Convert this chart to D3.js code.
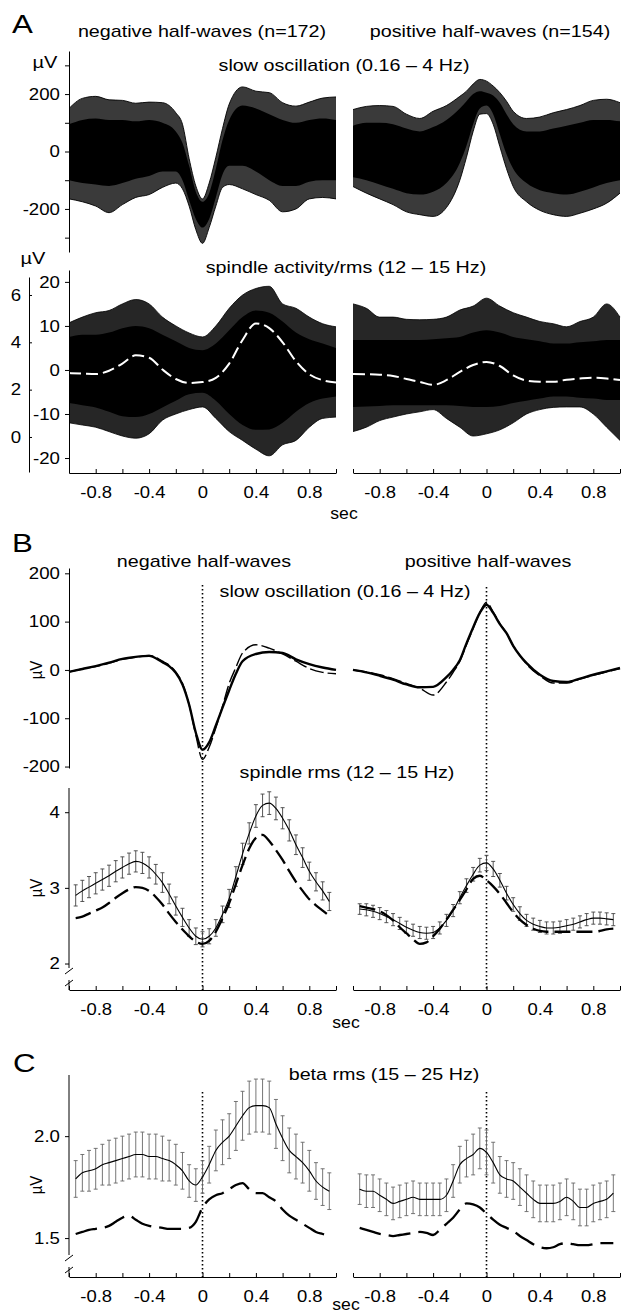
<!DOCTYPE html>
<html>
<head>
<meta charset="utf-8">
<script src="https://cdn.jsdelivr.net/npm/d3@7"></script>
<style>
body { margin: 0; background: #fff; }
svg text { fill: #000; }
</style>
</head>
<body>
<svg id="fig"></svg>
<script>
const FONT = '"Liberation Sans", Arial, sans-serif';

// ---- panel A : single half-waves (envelopes of the overlaid traces)
const tA = [-1,-0.9,-0.8,-0.7,-0.6,-0.5,-0.4,-0.3,-0.2,-0.15,-0.1,-0.05,0,0.05,0.1,0.15,0.2,0.3,0.4,0.5,0.6,0.7,0.8,0.9,1];
const soNegOuterHi = [150,185,192,180,178,168,172,170,135,95,-25,-120,-165,-110,-20,80,165,225,210,205,170,158,172,186,190];
const soNegOuterLo = [-165,-175,-190,-213,-185,-160,-150,-125,-110,-130,-190,-272,-320,-265,-190,-125,-115,-130,-150,-170,-210,-200,-165,-160,-165];
const soNegCoreHi = [95,110,115,110,110,105,110,100,70,30,-50,-140,-175,-145,-60,40,110,160,150,130,110,100,110,115,110];
const soNegCoreLo = [-100,-110,-115,-120,-110,-95,-85,-70,-70,-100,-170,-235,-265,-235,-160,-80,-50,-50,-70,-100,-120,-120,-105,-100,-100];
const soPosOuterHi = [146,157,160,157,130,115,140,160,192,210,235,251,245,228,205,175,140,115,120,135,146,160,178,182,170];
const soPosOuterLo = [-122,-145,-165,-185,-210,-220,-226,-195,-100,-20,70,130,132,95,17,-60,-122,-175,-205,-220,-226,-215,-200,-180,-145];
const soPosCoreHi = [90,100,100,95,80,70,85,110,150,175,200,210,205,195,170,130,95,70,70,80,90,100,110,110,105];
const soPosCoreLo = [-90,-100,-115,-130,-145,-150,-140,-110,-40,20,95,150,160,130,60,-10,-60,-110,-135,-145,-150,-140,-125,-110,-100];

const tS = [-1,-0.9,-0.8,-0.7,-0.6,-0.5,-0.4,-0.3,-0.2,-0.1,0,0.1,0.2,0.3,0.4,0.5,0.6,0.7,0.8,0.9,1];
const spNegSpkHi = [10.7,12,13,13.5,15,16,15,12,10,8.4,7.5,10,14,17,18.5,19,15,14,12,10.5,9.8];
const spNegCoreHi = [7.5,8,8,8.5,9.5,10,9.5,8,6.5,5,4.5,6,9,12,13.5,13,11,8.5,7,6,5];
const spNegCoreLo = [-7.5,-8,-8.5,-9.5,-10.5,-10.7,-10,-8.5,-7,-5.5,-5.2,-7,-10,-12.5,-13.6,-13.5,-12,-9.5,-7.5,-6.5,-6];
const spNegSpkLo = [-12,-12.5,-13,-14,-15,-15.5,-14.5,-11.4,-10,-9,-8.4,-11,-14,-16,-18,-19.5,-17,-16,-13,-11,-10.7];
const spNegRms = [2.7,2.68,2.66,2.8,3.1,3.45,3.35,2.85,2.45,2.28,2.32,2.5,3.1,4.1,4.8,4.6,4.0,3.2,2.65,2.4,2.3];
const spPosSpkHi = [15,14,12,12,11.5,11.4,11.5,12,13.6,14.5,16.3,14.5,13,12,11,10.5,9.8,11,12,15,12];
const spPosCoreHi = [6.8,6.8,6.8,6.8,6.8,6.8,7,7.2,7.5,8.5,9,8.5,7.5,7,6.5,6,6,6.3,6.5,6.8,6.8];
const spPosCoreLo = [-8.4,-8.3,-8.2,-8,-8,-8,-8,-8,-8.2,-8.4,-8.4,-8.2,-7.5,-7,-6.5,-6,-6,-6.3,-6.5,-6.8,-6.8];
const spPosSpkLo = [-14,-13,-11.5,-10.7,-10,-9.5,-9,-11,-13,-15,-14.5,-13.6,-12,-10,-9,-8.5,-8.4,-8.4,-10,-13,-16];
const spPosRms = [2.66,2.65,2.63,2.58,2.45,2.33,2.2,2.4,2.75,3.04,3.17,3.0,2.6,2.38,2.33,2.33,2.42,2.47,2.5,2.47,2.41];

// ---- panel B : averages (solid / dashed)
const tB = [-1,-0.9,-0.8,-0.7,-0.6,-0.5,-0.4,-0.3,-0.25,-0.2,-0.15,-0.1,-0.05,0,0.05,0.1,0.15,0.2,0.25,0.3,0.4,0.5,0.6,0.7,0.8,0.9,1];
const soNegSolid = [-4,2,8,15,23,27,29,16,8,-6,-30,-72,-130,-165,-150,-115,-78,-42,-8,18,33,37,35,22,12,5,0];
const soNegDashed = [-4,2,7,14,22,26,30,18,10,-4,-28,-72,-135,-185,-160,-120,-75,-28,5,35,52,45,33,18,3,-5,-8];
const soPosSolid = [0,-5,-12,-20,-30,-36,-35,-15,0,20,55,88,118,135,118,95,76,50,30,14,-10,-23,-25,-18,-10,-3,4];
const soPosDashed = [0,-4,-10,-18,-28,-38,-52,-25,-5,18,52,86,118,140,120,96,76,50,30,12,-12,-27,-27,-19,-11,-4,3];

const tE = [-0.95,-0.9,-0.85,-0.8,-0.75,-0.7,-0.65,-0.6,-0.55,-0.5,-0.45,-0.4,-0.35,-0.3,-0.25,-0.2,-0.15,-0.1,-0.05,0,
            0.05,0.1,0.15,0.2,0.25,0.3,0.35,0.4,0.45,0.5,0.55,0.6,0.65,0.7,0.75,0.8,0.85,0.9,0.95];
const spNegSolid = [2.90,2.96,3.01,3.06,3.11,3.16,3.22,3.27,3.32,3.35,3.33,3.27,3.18,3.07,2.92,2.76,2.61,2.47,2.36,2.32,
                    2.36,2.47,2.65,2.86,3.15,3.45,3.72,3.95,4.09,4.12,4.05,3.92,3.76,3.57,3.40,3.22,3.08,2.96,2.82];
const spNegSem = [0.14,0.14,0.14,0.14,0.14,0.14,0.14,0.14,0.14,0.14,0.14,0.14,0.13,0.13,0.13,0.12,0.12,0.11,0.11,0.10,
                  0.10,0.11,0.11,0.12,0.13,0.14,0.14,0.15,0.15,0.15,0.15,0.14,0.14,0.13,0.13,0.12,0.12,0.12,0.12];
const spNegDashed = [2.60,2.62,2.66,2.70,2.74,2.80,2.87,2.93,2.98,3.01,3.00,2.96,2.88,2.78,2.66,2.55,2.45,2.36,2.29,2.26,
                     2.30,2.42,2.60,2.80,3.05,3.30,3.52,3.66,3.70,3.62,3.50,3.37,3.22,3.08,2.96,2.85,2.77,2.70,2.63];
const spPosSolid = [2.72,2.71,2.69,2.66,2.62,2.58,2.53,2.48,2.44,2.41,2.40,2.41,2.47,2.57,2.70,2.87,3.03,3.18,3.30,3.33,
                    3.25,3.10,2.93,2.78,2.66,2.57,2.52,2.49,2.47,2.47,2.48,2.50,2.52,2.55,2.58,2.60,2.60,2.59,2.58];
const spPosSem = [0.07,0.08,0.08,0.08,0.08,0.08,0.08,0.08,0.08,0.08,0.08,0.08,0.08,0.08,0.08,0.08,0.09,0.09,0.09,0.10,
                  0.10,0.09,0.09,0.09,0.09,0.08,0.08,0.08,0.08,0.08,0.08,0.08,0.08,0.08,0.08,0.08,0.08,0.08,0.08];
const spPosDashed = [2.76,2.74,2.72,2.69,2.64,2.57,2.48,2.40,2.32,2.26,2.28,2.36,2.46,2.58,2.71,2.84,2.98,3.12,3.16,3.10,
                     3.02,2.92,2.80,2.68,2.58,2.51,2.46,2.43,2.42,2.42,2.42,2.42,2.42,2.42,2.42,2.42,2.43,2.45,2.46];

// ---- panel C : beta rms
const btNegSolid = [1.79,1.82,1.83,1.84,1.86,1.87,1.88,1.89,1.90,1.91,1.91,1.90,1.90,1.89,1.88,1.86,1.83,1.78,1.76,1.80,
                    1.86,1.93,1.97,2.00,2.05,2.10,2.14,2.15,2.15,2.14,2.06,1.99,1.93,1.90,1.87,1.83,1.78,1.75,1.73];
const btNegSem = [0.09,0.09,0.10,0.10,0.10,0.11,0.11,0.11,0.11,0.11,0.11,0.11,0.11,0.11,0.10,0.10,0.09,0.08,0.08,0.08,
                  0.09,0.10,0.11,0.11,0.12,0.12,0.13,0.13,0.13,0.13,0.12,0.11,0.11,0.11,0.10,0.10,0.09,0.09,0.09];
const btNegDashed = [1.52,1.53,1.54,1.545,1.55,1.56,1.58,1.60,1.61,1.59,1.57,1.56,1.555,1.55,1.545,1.545,1.545,1.55,1.58,1.65,
                     1.69,1.71,1.72,1.74,1.76,1.77,1.74,1.72,1.72,1.70,1.68,1.64,1.61,1.59,1.57,1.55,1.53,1.52,1.51];
const btPosSolid = [1.74,1.73,1.73,1.71,1.69,1.67,1.68,1.69,1.70,1.69,1.69,1.69,1.69,1.71,1.78,1.86,1.89,1.91,1.94,1.92,
                    1.87,1.81,1.79,1.78,1.75,1.72,1.69,1.67,1.67,1.67,1.68,1.70,1.68,1.65,1.65,1.67,1.68,1.69,1.72];
const btPosSem = [0.075,0.08,0.08,0.08,0.08,0.08,0.08,0.08,0.08,0.08,0.08,0.08,0.08,0.08,0.08,0.09,0.09,0.10,0.10,0.11,
                  0.10,0.09,0.09,0.09,0.09,0.09,0.09,0.09,0.09,0.09,0.09,0.09,0.09,0.09,0.09,0.09,0.09,0.09,0.09];
const btPosDashed = [1.55,1.54,1.53,1.52,1.515,1.51,1.515,1.52,1.525,1.53,1.525,1.515,1.54,1.57,1.60,1.64,1.67,1.665,1.65,1.62,
                     1.59,1.565,1.55,1.535,1.51,1.49,1.47,1.455,1.45,1.455,1.47,1.475,1.47,1.465,1.465,1.47,1.475,1.475,1.475];

const xTicks = [-1,-0.8,-0.6,-0.4,-0.2,0,0.2,0.4,0.6,0.8,1];

// ---------------------------------------------------------------
const svg = d3.select('#fig').attr('width', 623).attr('height', 1316)
    .attr('font-family', FONT);

const xL = d3.scaleLinear().domain([-1, 1]).range([69, 336]);
const xR = d3.scaleLinear().domain([-1, 1]).range([353, 620]);

const yA1 = d3.scaleLinear().domain([-350, 350]).range([252, 51]);
const yA2 = d3.scaleLinear().domain([-23.4, 22.7]).range([473, 270]);
const yA3 = d3.scaleLinear().domain([-1.48, 6.76]).range([472, 277]);
const yB1 = d3.scaleLinear().domain([-203, 211]).range([768, 568]);
const yB2 = d3.scaleLinear().domain([1.65, 4.32]).range([990, 788]);
const yC = d3.scaleLinear().domain([1.309, 2.30]).range([1277, 1075]);

function label(x, y, str, size, anchor, sx) {
    svg.append('text')
        .attr('transform', `translate(${x},${y}) scale(${sx || 1},1)`)
        .attr('text-anchor', anchor || 'middle')
        .attr('font-size', size)
        .text(str);
}

function vlabel(x, y, str) {
    svg.append('text')
        .attr('transform', `translate(${x},${y}) rotate(-90) scale(1,1.15)`)
        .attr('text-anchor', 'middle')
        .attr('font-size', 15)
        .text(str);
}

// filled envelope; edge > 0 also strokes the two borders
function band(x, y, t, hi, lo, fill, edge) {
    const area = d3.area()
        .x((d, i) => x(t[i]))
        .y0((d, i) => y(lo[i]))
        .y1((d, i) => y(hi[i]))
        .curve(d3.curveMonotoneX);
    svg.append('path').datum(hi).attr('d', area).attr('fill', fill);
    if (edge) {
        trace(x, y, t, hi, edge);
        trace(x, y, t, lo, edge);
    }
}

function trace(x, y, t, v, w, dash, color) {
    const line = d3.line()
        .x((d, i) => x(t[i]))
        .y(d => y(d))
        .curve(d3.curveMonotoneX);
    svg.append('path').datum(v)
        .attr('d', line)
        .attr('fill', 'none')
        .attr('stroke', color || '#000')
        .attr('stroke-width', w)
        .attr('stroke-dasharray', dash || null);
}

function errbars(x, y, t, v, s, color) {
    const g = svg.append('g').attr('stroke', color).attr('stroke-width', 0.9);
    const b = g.selectAll('g').data(v).join('g');
    b.append('line')
        .attr('x1', (d, i) => x(t[i])).attr('x2', (d, i) => x(t[i]))
        .attr('y1', (d, i) => y(d + s[i])).attr('y2', (d, i) => y(d - s[i]));
    b.append('line')
        .attr('x1', (d, i) => x(t[i]) - 2).attr('x2', (d, i) => x(t[i]) + 2)
        .attr('y1', (d, i) => y(d + s[i])).attr('y2', (d, i) => y(d + s[i]));
    b.append('line')
        .attr('x1', (d, i) => x(t[i]) - 2).attr('x2', (d, i) => x(t[i]) + 2)
        .attr('y1', (d, i) => y(d - s[i])).attr('y2', (d, i) => y(d - s[i]));
}

function styleAxis(g, size, sx) {
    g.attr('font-family', FONT).attr('font-size', size);
    g.selectAll('path, line').attr('stroke', '#000').attr('stroke-width', 1);
    g.selectAll('text').attr('fill', '#000').attr('transform', `scale(${sx},1)`);
}

function yAxis(y, x0, ticks, shown, fmt, keepDomain) {
    const g = svg.append('g').attr('transform', `translate(${x0},0)`)
        .call(d3.axisLeft(y).tickValues(ticks).tickSize(4).tickPadding(4).tickSizeOuter(0)
            .tickFormat(d => shown.includes(d) ? fmt(d) : ''));
    if (!keepDomain) g.select('.domain').remove();
    styleAxis(g, 16.5, 1.13);
    return g;
}

function xAxis(x, y0) {
    const g = svg.append('g').attr('transform', `translate(0,${y0})`)
        .call(d3.axisBottom(x).tickValues(xTicks).tickSize(-4).tickPadding(13).tickSizeOuter(0)
            .tickFormat(d => Math.round(d * 10) % 4 === 0 ? (d === 0 ? '0' : d.toFixed(1)) : ''));
    styleAxis(g, 16.5, 1.12);
}

function vline(x, y1, y2, dash, w) {
    svg.append('line').attr('x1', x).attr('x2', x).attr('y1', y1).attr('y2', y2)
        .attr('stroke', '#000').attr('stroke-width', w || 1)
        .attr('stroke-dasharray', dash || null);
}

function breakMark(x, y) {
    [0, 12].forEach(off => {
        svg.append('line')
            .attr('x1', x - 4).attr('y1', y + off + 3)
            .attr('x2', x + 4).attr('y2', y + off - 3)
            .attr('stroke', '#000').attr('stroke-width', 1);
    });
}

// ================= PANEL A =================
label(12, 33, 'A', 25, 'start', 1.25);
label(202, 37, 'negative half-waves (n=172)', 17, 'middle', 1.16);
label(490, 37, 'positive half-waves (n=154)', 17, 'middle', 1.16);
label(344, 71, 'slow oscillation (0.16 \u2013 4 Hz)', 17, 'middle', 1.16);
label(45, 68, '\u00b5V', 16, 'middle', 1.25);

band(xL, yA1, tA, soNegOuterHi, soNegOuterLo, '#3a3a3a', 0.9);
band(xL, yA1, tA, soNegCoreHi, soNegCoreLo, '#000');
band(xR, yA1, tA, soPosOuterHi, soPosOuterLo, '#3a3a3a', 0.9);
band(xR, yA1, tA, soPosCoreHi, soPosCoreLo, '#000');

yAxis(yA1, 69, [-300, -200, -100, 0, 100, 200, 300], [-200, 0, 200], d => d, true);

// spindle activity
label(346, 273, 'spindle activity/rms (12 \u2013 15 Hz)', 17, 'middle', 1.16);
label(33, 264, '\u00b5V', 16, 'middle', 1.25);

band(xL, yA2, tS, spNegSpkHi, spNegSpkLo, '#262626', 0.8);
band(xL, yA2, tS, spNegCoreHi, spNegCoreLo, '#000');
band(xR, yA2, tS, spPosSpkHi, spPosSpkLo, '#262626', 0.8);
band(xR, yA2, tS, spPosCoreHi, spPosCoreLo, '#000');
trace(xL, yA3, tS, spNegRms, 2, '12,5', '#fff');
trace(xR, yA3, tS, spPosRms, 2, '12,5', '#fff');

yAxis(yA2, 69, [-20, -10, 0, 10, 20], [-20, -10, 0, 10, 20], d => d, true);
const rmsAxis = svg.append('g').attr('transform', 'translate(29,0)')
    .call(d3.axisLeft(yA3).tickValues([0, 2, 4, 6]).tickSize(-3).tickPadding(7).tickSizeOuter(0));
styleAxis(rmsAxis, 16.5, 1.13);

xAxis(xL, 473);
xAxis(xR, 473);
label(344, 519, 'sec', 16, 'middle', 1.1);

// ================= PANEL B =================
label(12, 552, 'B', 25, 'start', 1.25);
label(204, 567, 'negative half-waves', 17, 'middle', 1.16);
label(488, 567, 'positive half-waves', 17, 'middle', 1.16);
label(345, 597, 'slow oscillation (0.16 \u2013 4 Hz)', 17, 'middle', 1.16);

vline(xL(0), 585, 990, '1.5,2.5', 1.6);
vline(xR(0), 587, 990, '1.5,2.5', 1.6);

trace(xL, yB1, tB, soNegDashed, 1.4, '14,4');
trace(xL, yB1, tB, soNegSolid, 2.4);
trace(xR, yB1, tB, soPosDashed, 1.4, '14,4');
trace(xR, yB1, tB, soPosSolid, 2.4);

yAxis(yB1, 69, [-200, -100, 0, 100, 200], [-200, -100, 0, 100, 200], d => d, true);
vlabel(42, 670, '\u00b5V');

label(347, 778, 'spindle rms (12 \u2013 15 Hz)', 17, 'middle', 1.16);
errbars(xL, yB2, tE, spNegSolid, spNegSem, '#444');
errbars(xR, yB2, tE, spPosSolid, spPosSem, '#444');
trace(xL, yB2, tE, spNegSolid, 1.1);
trace(xR, yB2, tE, spPosSolid, 1.1);
trace(xL, yB2, tE, spNegDashed, 2.3, '16,6');
trace(xR, yB2, tE, spPosDashed, 2.3, '16,6');

yAxis(yB2, 69, [2, 3, 4], [2, 3, 4], d => d, false);
vline(69, 788, 968);
vline(69, 980, 990);
breakMark(69, 971);
vlabel(42, 888, '\u00b5V');

xAxis(xL, 990);
xAxis(xR, 990);
label(346, 1028, 'sec', 16, 'middle', 1.1);

// ================= PANEL C =================
label(13, 1072, 'C', 25, 'start', 1.25);
label(384, 1080, 'beta rms (15 \u2013 25 Hz)', 17, 'middle', 1.16);

vline(xL(0), 1092, 1277, '1.5,2.5', 1.6);
vline(xR(0), 1092, 1277, '1.5,2.5', 1.6);

errbars(xL, yC, tE, btNegSolid, btNegSem, '#666');
errbars(xR, yC, tE, btPosSolid, btPosSem, '#666');
trace(xL, yC, tE, btNegSolid, 1.1);
trace(xR, yC, tE, btPosSolid, 1.1);
trace(xL, yC, tE, btNegDashed, 2.3, '22,8');
trace(xR, yC, tE, btPosDashed, 2.3, '22,8');

yAxis(yC, 69, [1.5, 2.0], [1.5, 2.0], d => d.toFixed(1), false);
vline(69, 1075, 1255);
vline(69, 1267, 1277);
breakMark(69, 1258);
vlabel(42, 1185, '\u00b5V');

xAxis(xL, 1277);
xAxis(xR, 1277);
label(346, 1310, 'sec', 16, 'middle', 1.1);
</script>
</body>
</html>
